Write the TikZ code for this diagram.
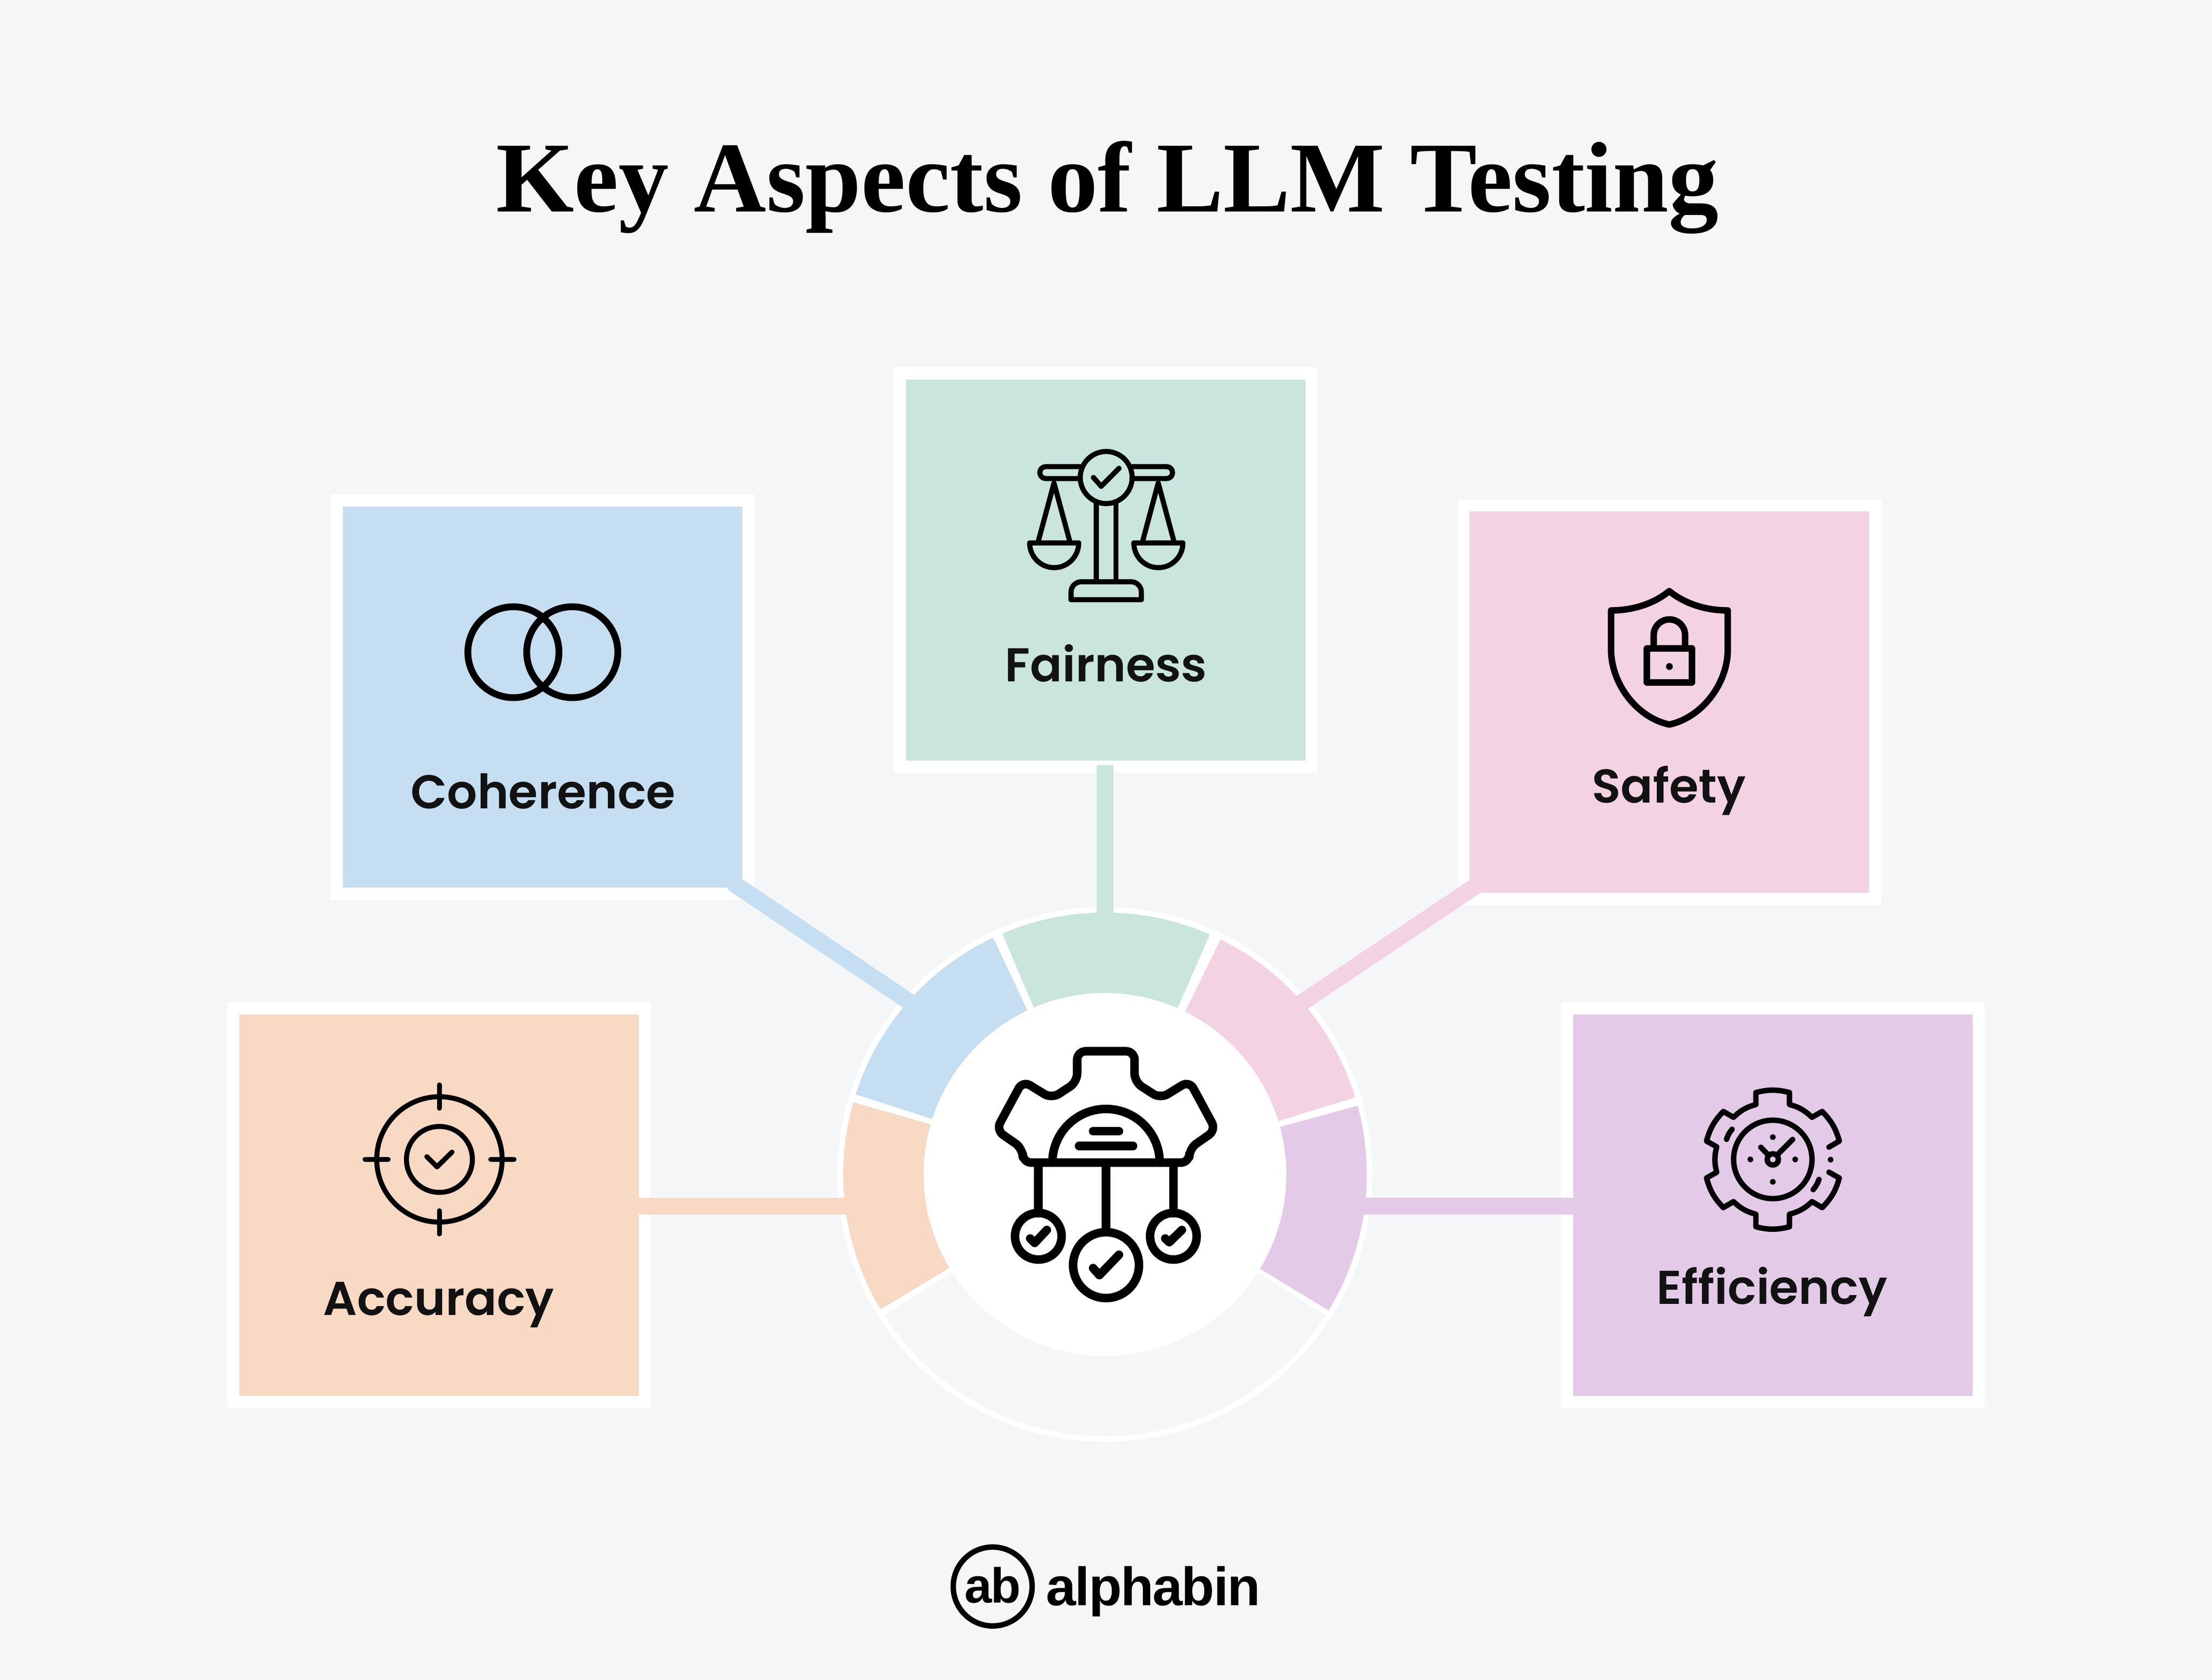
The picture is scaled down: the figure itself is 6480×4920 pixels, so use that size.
\documentclass[tikz,border=0pt]{standalone}
\usepackage{fontspec}
\setmainfont{Liberation Serif}
\newfontfamily\labelfont[BoldFont=Poppins SemiBold]{Poppins}
\newfontfamily\logofont[LetterSpace=-2]{Liberation Sans}
\definecolor{pagebg}{HTML}{F4F6F8}
\definecolor{aspblue}{HTML}{C6DEF1}
\definecolor{aspgreen}{HTML}{C9E5DD}
\definecolor{asppink}{HTML}{F3D2E3}
\definecolor{asporange}{HTML}{F8D9C4}
\definecolor{asppurple}{HTML}{E3CBE8}
\tikzset{
   aspectbox/.style={draw=white,line width=0.36cm,minimum width=12.05cm,minimum height=11.52cm,inner sep=0pt,outer sep=0pt},
   linkline/.style={line width=0.49cm},
   iconline/.style={draw=black,line cap=round,line join=round},
   aspectlabel/.style={anchor=base,text=black!93,font=\labelfont\bfseries\fontsize{39.5}{46}\selectfont},
   logotext/.style={anchor=base,font=\logofont\bfseries\fontsize{45}{50}\selectfont},
}
\begin{document}
\begin{tikzpicture}[x=0.01cm,y=-0.01cm]
   \fill[pagebg] (0,0) rectangle (6480,4920);
   \node[anchor=base,font=\bfseries\fontsize{83.6}{90}\selectfont] (title) at (3244,620) {Key Aspects of LLM Testing};

   % ring
   \node[circle,fill=white,minimum size=15.66cm,inner sep=0pt] (ringdisc) at (3237,3440) {};
   \begin{scope}[shift={(3237,3440)},y=0.01cm]
      \fill[aspgreen] (0,0) -- (66.4:767) arc[start angle=66.4,end angle=113.1,radius=767] -- cycle;
      \fill[aspblue] (0,0) -- (115.3:767) arc[start angle=115.3,end angle=162.2,radius=767] -- cycle;
      \fill[asporange] (0,0) -- (164:767) arc[start angle=164,end angle=211,radius=767] -- cycle;
      \fill[asppink] (0,0) -- (17.1:767) arc[start angle=17.1,end angle=63.8,radius=767] -- cycle;
      \fill[asppurple] (0,0) -- (-31.3:767) arc[start angle=-31.3,end angle=15.2,radius=767] -- cycle;
      \fill[pagebg] (0,0) -- (212.6:767) arc[start angle=212.6,end angle=327.4,radius=767] -- cycle;
      \coordinate (fairnessseg) at (0.5,720);
      \coordinate (coherenceseg) at (-517,468);
      \coordinate (safetyseg) at (533,474);
      \coordinate (accuracyseg) at (-717,-93);
      \coordinate (efficiencyseg) at (723,-93);
   \end{scope}

   % boxes
   \node[aspectbox,fill=aspblue] (coherencebox) at (1589.5,2042) {};
   \node[aspectbox,fill=aspgreen] (fairnessbox) at (3239,1670) {};
   \node[aspectbox,fill=asppink] (safetybox) at (4890.5,2057) {};
   \node[aspectbox,fill=asporange] (accuracybox) at (1286.5,3530) {};
   \node[aspectbox,fill=asppurple] (efficiencybox) at (5193.5,3530) {};

   % links
   \draw[linkline,aspgreen,shorten <=-0.05cm] (fairnessbox.south -| fairnessseg) -- (fairnessseg);
   \draw[linkline,aspblue] ([shift={(-47,-33)}]coherencebox.south east) -- (coherenceseg);
   \draw[linkline,asppink] ([shift={(47,-46)}]safetybox.south west) -- (safetyseg);
   \draw[linkline,asporange] (accuracybox.center |- accuracyseg) -- (accuracyseg);
   \draw[linkline,asppurple] (efficiencybox.center |- efficiencyseg) -- (efficiencyseg);

   \node[circle,fill=white,minimum size=10.62cm,inner sep=0pt] (hubdisc) at (3237,3440) {};

   % hub icon
   \begin{scope}[shift={(2400,2600)},x=0.01084cm,y=-0.01084cm,iconline,line width=0.25cm]
      \draw[rounded corners=0.25cm] (775,743) -- (1000,743) -- (1000,705) -- (1072,655) -- (1000,522) -- (922,570) -- (852,525)
         -- (852,442) -- (697,442) -- (697,525) -- (628,570) -- (550,522) -- (478,655) -- (550,705) -- (550,743) -- cycle;
      \draw (630,743) arc[start angle=180,end angle=360,radius=145];
      \draw (740,658) -- (810,658);
      \draw (702,698) -- (848,698);
      \draw (592,743) -- (592,880);
      \draw (775,743) -- (775,930);
      \draw (957,743) -- (957,880);
      \draw (592,942) circle[radius=63];
      \draw (775,1020) circle[radius=89];
      \draw (957,942) circle[radius=63];
      \draw (570,948) -- (582,960) -- (615,925);
      \draw (740,1028) -- (757,1047) -- (810,992);
      \draw (935,948) -- (946,958) -- (980,925);
   \end{scope}

   % scales icon
   \begin{scope}[shift={(2900,1250)},x=0.004145cm,y=-0.003827cm,iconline,line width=0.15cm]
      \draw (820,388) circle[x radius=183,y radius=199];
      \draw[rounded corners=0.17cm] (635,305) -- (352,305) -- (352,396) -- (625,396);
      \draw[rounded corners=0.17cm] (1005,305) -- (1288,305) -- (1288,396) -- (1020,396);
      \draw (750,580) -- (750,1185);
      \draw (889,580) -- (889,1185);
      \draw (572,1322) [rounded corners=0.3cm] -- (572,1185) -- (1068,1185) [sharp corners] -- (1068,1322) -- cycle;
      \draw (338,888) -- (452,430) -- (566,888);
      \draw (1074,888) -- (1187,430) -- (1301,888);
      \draw (280,888) -- (626,888) arc[start angle=0,end angle=180,x radius=173,y radius=189] -- cycle;
      \draw (1015,888) -- (1361,888) arc[start angle=0,end angle=180,x radius=173,y radius=189] -- cycle;
      \draw (730,388) -- (785,455) -- (910,318);
   \end{scope}

   % rings icon
   \begin{scope}[shift={(1300,1700)},x=0.003508cm,y=-0.003333cm,iconline,line width=0.2cm]
      \draw (581,632) circle[x radius=380,y radius=400];
      \draw (1072,632) circle[x radius=380,y radius=400];
   \end{scope}

   % shield icon
   \begin{scope}[shift={(4600,1650)},x=0.003827cm,y=-0.003508cm,iconline,line width=0.19cm]
      \draw (757,232) .. controls (880,340) and (1040,393) .. (1204,393) -- (1204,720)
         .. controls (1204,1000) and (1010,1285) .. (757,1345) .. controls (505,1285) and (312,1000) .. (312,720)
         -- (312,393) .. controls (475,393) and (635,340) .. (757,232) -- cycle;
      \draw (586,711) rectangle (930,993);
      \draw (638,711) -- (638,598) arc[start angle=180,end angle=360,x radius=120,y radius=130] -- (878,711);
      \fill (758,861) circle[x radius=26,y radius=29];
   \end{scope}

   % target icon
   \begin{scope}[shift={(1000,3100)},x=0.003508cm,y=-0.003508cm,iconline,line width=0.147cm]
      \draw (818,843) circle[radius=523];
      \draw (818,843) circle[radius=275];
      \draw (818,222) -- (818,415);
      \draw (818,1272) -- (818,1464);
      \draw (198,843) -- (390,843);
      \draw (1247,843) -- (1440,843);
      \draw (713,820) -- (798,905) -- (923,782);
   \end{scope}

   % gear clock icon
   \begin{scope}[shift={(4950,3100)},x=0.003508cm,y=-0.003508cm,iconline,line width=0.16cm]
      \draw (693,843) circle[radius=327];
      \draw (693,843) circle[radius=47];
      \draw (593,742) -- (645,795);
      \draw (858,677) -- (740,795);
      \fill (693,657) circle[radius=24];
      \fill (506,843) circle[radius=24];
      \fill (880,843) circle[radius=24];
      \fill (693,1030) circle[radius=24];
      \fill (1175,845) circle[radius=24];
      \draw (353,592) to[bend right=10] (307,675);
      \draw (1078,1010) to[bend left=10] (1030,1095);
      \draw (1162,740) -- (1248,690) to[bend right=14] (1105,443) -- (1020,492) to[bend right=14] (832,385) -- (832,285)
         to[bend right=14] (552,285) -- (552,385) to[bend right=14] (365,492) -- (280,443) to[bend right=14] (140,690)
         -- (225,738) to[bend right=14] (225,950) -- (140,998) to[bend right=14] (280,1245) -- (365,1195)
         to[bend right=14] (552,1300) -- (552,1405) to[bend right=14] (832,1405) -- (832,1300)
         to[bend right=14] (1020,1195) -- (1105,1245) to[bend right=14] (1248,998) -- (1162,950);
   \end{scope}

   \node[aspectlabel] (coherence) at (1591,2368) {Coherence};
   \node[aspectlabel] (fairness) at (3240,1996) {Fairness};
   \node[aspectlabel] (safety) at (4889,2352) {Safety};
   \node[aspectlabel] (accuracy) at (1285,3852) {Accuracy};
   \node[aspectlabel] (efficiency) at (5191,3820) {Efficiency};

   % logo
   \node[circle,draw=black,line width=0.16cm,minimum size=2.31cm,inner sep=0pt] (logoring) at (2908,4647) {};
   \node[logotext,font=\logofont\bfseries\fontsize{41}{50}\selectfont] (logoab) at (2908,4695) {ab};
   \node[logotext] (logoname) at (3378,4702) {alphabin};
\end{tikzpicture}
\end{document}
